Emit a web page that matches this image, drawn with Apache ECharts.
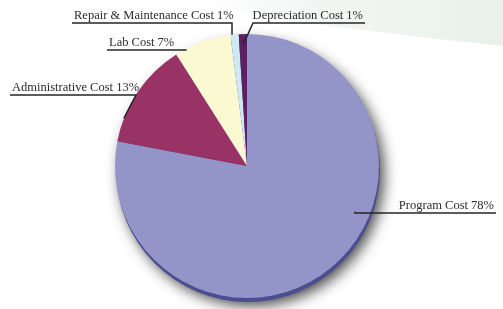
<!DOCTYPE html>
<html>
<head>
<meta charset="utf-8">
<script src="https://cdn.jsdelivr.net/npm/echarts@6/dist/echarts.min.js"></script>
<style>
  html, body { margin: 0; padding: 0; background: #fff; }
  #chart { width: 503px; height: 309px; }
</style>
</head>
<body>
<div id="chart"></div>
<script>
// 数据
const categories = ['Program Cost', 'Administrative Cost', 'Lab Cost', 'Repair & Maintenance Cost', 'Depreciation Cost'];
const shares = [78, 13, 7, 1, 1];

// 配色
const colors = ['#9395c8', '#993366', '#fbf9d1', '#cfe9f1', '#5c1f66'];

// 饼图位置
const cx = 247, cy = 166, R = 132;

// 标签引线：锚点角度(顺时针, 从正上方)、半径、横线高度、拐点x、横线末端x
const leaders = [
  { angle: 113, r: 117, lineY: 213, elbowX: 355, endX: 496 },
  { angle: -68.8, r: 132, lineY: 95, elbowX: 136, endX: 10 },
  { angle: -27.5, r: 131, lineY: 50, elbowX: 186, endX: 107 },
  { angle: -6.5, r: 132, lineY: 23, elbowX: 232, endX: 72 },
  { angle: -1.9, r: 121, lineY: 23, elbowX: 253, endX: 365 },
];

const pieData = categories.map((name, i) => ({ name: name, value: shares[i] }));

const chart = echarts.init(document.getElementById('chart'));

const option = {
  animation: false,
  backgroundColor: '#fff',
  graphic: [
    {
      type: 'polygon',
      silent: true,
      z: -10,
      shape: { points: [[180, 0], [503, 0], [503, 46], [420, 37], [300, 22]] },
      style: {
        fill: new echarts.graphic.LinearGradient(1, 0, 0, 0, [
          { offset: 0, color: 'rgba(233,240,235,1)' },
          { offset: 0.6, color: 'rgba(239,244,241,0.8)' },
          { offset: 1, color: 'rgba(246,249,247,0)' },
        ]),
      },
    },
  ],
  series: [
    // 底部阴影边缘
    {
      type: 'pie',
      silent: true,
      center: [cx + 1, cy + 4],
      radius: R,
      label: { show: false },
      labelLine: { show: false },
      data: [{ value: 1, itemStyle: { color: '#4b4e90' } }],
      itemStyle: {
        shadowBlur: 14,
        shadowColor: 'rgba(0,0,0,0.7)',
        shadowOffsetX: 4,
        shadowOffsetY: 4,
      },
      z: 1,
    },
    // 饼图
    {
      type: 'pie',
      center: [cx, cy],
      radius: R,
      startAngle: 90,
      clockwise: true,
      z: 2,
      data: pieData.map((d, i) => ({ ...d, itemStyle: { color: colors[i] } })),
      label: { show: false },
      labelLine: { show: false },
    },
    // 标签层（透明，画在饼图上方）
    {
      type: 'pie',
      silent: true,
      center: [cx, cy],
      radius: R,
      startAngle: 90,
      clockwise: true,
      avoidLabelOverlap: false,
      z: 3,
      data: pieData,
      itemStyle: { color: 'rgba(0,0,0,0)' },
      label: {
        show: true,
        position: 'outside',
        formatter: p => `${p.name} ${p.value}%`,
        fontFamily: '"Liberation Serif", "DejaVu Serif", serif',
        fontSize: 12.5,
        color: '#2b2b2b',
      },
      labelLine: {
        show: true,
        smooth: false,
        lineStyle: { color: '#262626', width: 1.5 },
      },
      labelLayout: params => {
        const l = leaders[params.dataIndex];
        const a = l.angle * Math.PI / 180;
        const ax = cx + l.r * Math.sin(a);
        const ay = cy - l.r * Math.cos(a);
        const toRight = l.endX > l.elbowX;
        return {
          x: toRight ? l.endX - 2 : l.endX + 2,
          y: l.lineY - 1,
          align: toRight ? 'right' : 'left',
          verticalAlign: 'bottom',
          labelLinePoints: [[ax, ay], [l.elbowX, l.lineY], [l.endX, l.lineY]],
        };
      },
    },
  ],
};

chart.setOption(option);
</script>
</body>
</html>
